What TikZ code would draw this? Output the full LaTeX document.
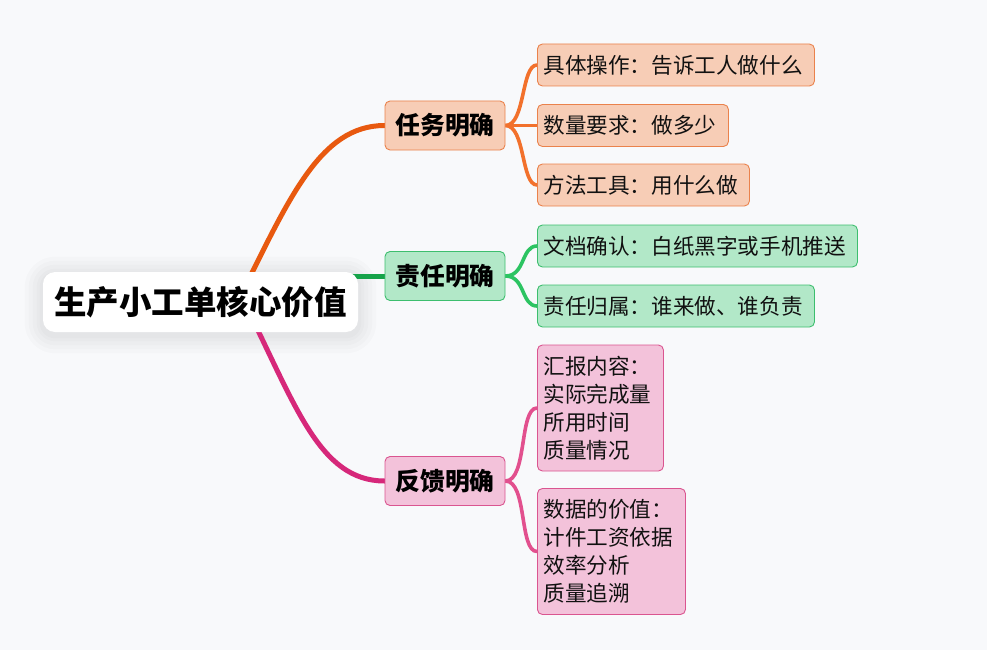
\documentclass[tikz,border=0pt]{standalone}
\usepackage{fontspec}
\setmainfont{Noto Sans CJK SC}
\usetikzlibrary{calc}
\pgfdeclarelayer{bgzero}
\pgfdeclarelayer{edges}
\pgfsetlayers{bgzero,edges,main}
\definecolor{bgc}{HTML}{F8F9FB}
\definecolor{orMain}{HTML}{E8590F}
\definecolor{orLine}{HTML}{F2712C}
\definecolor{orFill}{HTML}{F7CDB6}
\definecolor{orDraw}{HTML}{EA824C}
\definecolor{grMain}{HTML}{16A34A}
\definecolor{grLine}{HTML}{2CC462}
\definecolor{grFill}{HTML}{B2E8C8}
\definecolor{grDraw}{HTML}{3DBE6E}
\definecolor{pkMain}{HTML}{D6287A}
\definecolor{pkLine}{HTML}{E2508E}
\definecolor{pkFill}{HTML}{F3C2DA}
\definecolor{pkDraw}{HTML}{DA5590}
\definecolor{txt}{HTML}{111111}
\tikzset{
  rootbox/.style={draw=none, fill=white, rounded corners=12pt, minimum width=315pt, minimum height=60pt,
    inner sep=0pt, font=\fontsize{32.5pt}{38pt}\selectfont\bfseries, text=black},
  branchbox/.style={rounded corners=5pt, line width=0.9pt, minimum width=120pt, minimum height=49pt,
    inner sep=0pt, font=\fontsize{24.8pt}{28pt}\selectfont\bfseries, text=black},
  leafbox/.style={rounded corners=5pt, line width=0.9pt, anchor=west, align=left, inner xsep=6pt,
    inner ysep=0pt, font=\fontsize{21.6pt}{28pt}\selectfont, text=txt},
  mainline/.style={line width=5pt, line cap=round},
  leafline/.style={line width=3.6pt, line cap=round},
}
\begin{document}
\begin{tikzpicture}[x=1pt,y=-1pt]
\begin{pgfonlayer}{bgzero}
\fill[bgc] (0,0) rectangle (987,650);
\end{pgfonlayer}
\useasboundingbox (0,0) rectangle (987,650);

\node[rootbox] (root) at (200.5,302) {生产小工单核心价值};

\node[branchbox, fill=orFill, draw=orDraw] (b1) at (445,125.5) {任务明确};
\node[branchbox, fill=grFill, draw=grDraw] (b2) at (445,276) {责任明确};
\node[branchbox, fill=pkFill, draw=pkDraw] (b3) at (445,481) {反馈明确};

\node[leafbox, fill=orFill, draw=orDraw, text width=265pt, minimum height=42pt] (l1) at (537,65) {具体操作：告诉工人做什么};
\node[leafbox, fill=orFill, draw=orDraw, text width=179pt, minimum height=42pt] (l2) at (537,125.5) {数量要求：做多少};
\node[leafbox, fill=orFill, draw=orDraw, text width=200pt, minimum height=42pt] (l3) at (537,185) {方法工具：用什么做};
\node[leafbox, fill=grFill, draw=grDraw, text width=308pt, minimum height=42pt] (l4) at (537,246) {文档确认：白纸黑字或手机推送};
\node[leafbox, fill=grFill, draw=grDraw, text width=265pt, minimum height=42pt] (l5) at (537,306) {责任归属：谁来做、谁负责};
\node[leafbox, fill=pkFill, draw=pkDraw, text width=114pt, minimum height=126pt] (l6) at (537,408) {汇报内容：\\实际完成量\\所用时间\\质量情况};
\node[leafbox, fill=pkFill, draw=pkDraw, text width=136pt, minimum height=126pt] (l7) at (537,551.5) {数据的价值：\\计件工资依据\\效率分析\\质量追溯};

\begin{pgfonlayer}{bgzero}
\foreach \r in {18,14,10,6,3} {
  \fill[black, opacity=0.017, rounded corners={12pt+\r pt}]
    ($(root.north west)+(-\r,-\r+3)$) rectangle ($(root.south east)+(\r,\r+3)$);
}
\end{pgfonlayer}

\begin{pgfonlayer}{edges}
\draw[mainline, orMain] ($(root.center)+(38,-2)$) .. controls ($(root.center)+(88,-102)$) and ($(b1.west)+(-65,0)$) .. (b1.west);
\draw[mainline, grMain] ($(root.center)+(100,-26)$) -- (b2.west);
\draw[mainline, pkMain] ($(root.center)+(45,3)$) .. controls ($(root.center)+(95,103)$) and ($(b3.west)+(-65,0)$) .. (b3.west);
\draw[leafline, orLine] (b1.east) .. controls +(20,0) and +(-16,0) .. (l1.west);
\draw[leafline, orLine] (b1.east) -- (l2.west);
\draw[leafline, orLine] (b1.east) .. controls +(20,0) and +(-16,0) .. (l3.west);
\draw[leafline, grLine] (b2.east) .. controls +(20,0) and +(-16,0) .. (l4.west);
\draw[leafline, grLine] (b2.east) .. controls +(20,0) and +(-16,0) .. (l5.west);
\draw[leafline, pkLine] (b3.east) .. controls +(22,0) and +(-18,0) .. (l6.west);
\draw[leafline, pkLine] (b3.east) .. controls +(22,0) and +(-18,0) .. (l7.west);
\end{pgfonlayer}
\end{tikzpicture}
\end{document}
